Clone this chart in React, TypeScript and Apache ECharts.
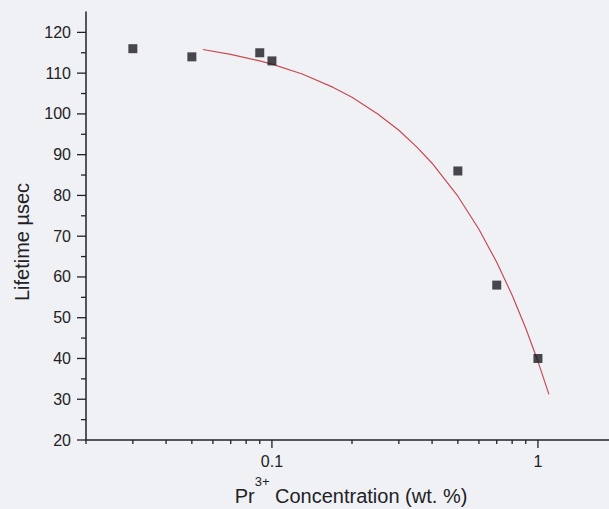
import { useEffect, useRef } from "react";
import * as echarts from "echarts";

// Measured lifetimes against Pr3+ concentration
const concentration = [0.03, 0.05, 0.09, 0.1, 0.5, 0.7, 1.0];
const lifetime = [116, 114, 115, 113, 86, 58, 40];

// Fitted curve (red)
const fitConcentration = [0.055, 0.07, 0.09, 0.1, 0.13, 0.17, 0.2, 0.25, 0.3, 0.35, 0.4, 0.5, 0.6, 0.7, 0.8, 0.9, 1.0, 1.1];
const fitLifetime = [115.8, 114.6, 113.0, 112.2, 109.8, 106.5, 104.1, 100.0, 96.0, 91.9, 87.9, 79.8, 71.7, 63.6, 55.5, 47.4, 39.3, 31.2];

// Tick positions
const xMajorTicks = [0.1, 1];
const xMinorTicks = [0.02, 0.03, 0.04, 0.05, 0.06, 0.07, 0.08, 0.09, 0.2, 0.3, 0.4, 0.5, 0.6, 0.7, 0.8, 0.9];
const yMajorTicks = [20, 30, 40, 50, 60, 70, 80, 90, 100, 110, 120];
const yMinorTicks = [25, 35, 45, 55, 65, 75, 85, 95, 105, 115];

const X_MIN = 0.02;
const X_MAX = 1.85;
const Y_MIN = 20;
const Y_MAX = 125;

const FONT = "'Liberation Sans', Arial, Helvetica, sans-serif";
const INK = "#222226";
const BG = "#f0f1f4";

function tickSeries(values: number[], dir: "x" | "y", len: number) {
  return {
    type: "custom",
    silent: true,
    clip: false,
    z: 5,
    data: values.map((v) => (dir === "x" ? [v, Y_MIN] : [X_MIN, v])),
    renderItem: (_params: any, api: any) => {
      const p = api.coord([api.value(0), api.value(1)]);
      const shape =
        dir === "x"
          ? { x1: p[0], y1: p[1], x2: p[0], y2: p[1] + len }
          : { x1: p[0] - len, y1: p[1], x2: p[0], y2: p[1] };
      return { type: "line", shape, style: { stroke: INK, lineWidth: 1.3 } };
    },
  };
}

export default function App() {
  const ref = useRef<HTMLDivElement>(null);

  useEffect(() => {
    const chart = echarts.init(ref.current!, undefined, { renderer: "svg" });
    chart.setOption({
      animation: false,
      backgroundColor: BG,
      grid: { left: 86, right: 0, top: 12, bottom: 69, containLabel: false },
      xAxis: {
        type: "log",
        logBase: 10,
        min: X_MIN,
        max: X_MAX,
        splitLine: { show: false },
        axisTick: { show: false },
        axisLine: { lineStyle: { color: INK, width: 1.5 } },
        axisLabel: {
          showMinLabel: false,
          showMaxLabel: false,
          color: INK,
          fontFamily: FONT,
          fontSize: 16,
          margin: 13,
          formatter: (v: number) => String(+Number(v).toPrecision(3)),
        },
      },
      yAxis: {
        type: "value",
        min: Y_MIN,
        max: Y_MAX,
        interval: 10,
        splitLine: { show: false },
        axisTick: { show: false },
        axisLine: { show: true, lineStyle: { color: INK, width: 1.5 } },
        axisLabel: {
          showMaxLabel: false,
          color: INK,
          fontFamily: FONT,
          fontSize: 16,
          margin: 15,
        },
      },
      graphic: [
        {
          type: "text",
          x: 22,
          y: 242,
          rotation: Math.PI / 2,
          style: {
            text: "Lifetime µsec",
            fill: INK,
            font: `20px ${FONT}`,
            align: "center",
            verticalAlign: "middle",
          },
        },
        {
          type: "text",
          x: 351,
          y: 496,
          style: {
            text: "{a|Pr}{s|3+}{a| Concentration (wt. %)}",
            align: "center",
            verticalAlign: "middle",
            rich: {
              a: { fontFamily: FONT, fontSize: 20, lineHeight: 42, fill: INK, verticalAlign: "middle" },
              s: { fontFamily: FONT, fontSize: 13, lineHeight: 14, fill: INK, verticalAlign: "top" },
            },
          },
        },
      ],
      series: [
        tickSeries(xMajorTicks, "x", 8),
        tickSeries(xMinorTicks, "x", 4),
        tickSeries(yMajorTicks, "y", 9),
        tickSeries(yMinorTicks, "y", 5),
        {
          type: "line",
          data: fitConcentration.map((c, i) => [c, fitLifetime[i]]),
          showSymbol: false,
          symbol: "none",
          lineStyle: { color: "#c94a55", width: 1.2 },
          z: 3,
        },
        {
          type: "scatter",
          data: concentration.map((c, i) => [c, lifetime[i]]),
          symbol: "rect",
          symbolSize: 9,
          itemStyle: { color: "#1b1b22" },
          z: 4,
        },
      ],
    });
    return () => chart.dispose();
  }, []);

  return (
    <div style={{ position: "fixed", left: 0, top: 0, width: 609, height: 509, background: BG }}>
      <div ref={ref} style={{ width: 609, height: 509 }} />
    </div>
  );
}
